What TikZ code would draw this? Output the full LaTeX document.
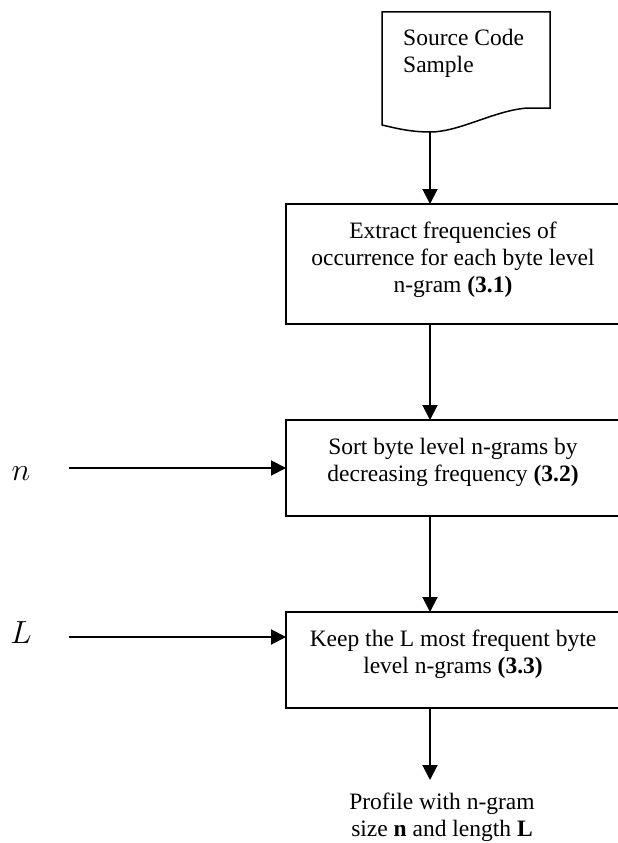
\RequirePackage{fix-cm}
\documentclass[tikz,border=0pt]{standalone}
\usepackage{fontspec}
\setmainfont{Liberation Serif}
\usetikzlibrary{arrows.meta}
\begin{document}
\begin{tikzpicture}[x=1pt,y=-1pt,
  box/.style={draw, line width=1.5pt, minimum width=334pt, inner sep=0pt, outer sep=0pt, anchor=north west},
  txt/.style={font=\fontsize{23.5}{27}\selectfont, align=center, inner sep=0pt, anchor=north},
  arr/.style={line width=2pt, -{Triangle[width=15pt,length=15pt]}},
  var/.style={font=\fontsize{32}{32}\selectfont, inner sep=0pt},
  docline/.style={draw, line width=1.5pt, line join=miter}]
\useasboundingbox (0,0) rectangle (618,843);
\fill[white] (0,0) rectangle (618,843);
% document shape
\draw[docline] (382,125) -- (382,12) -- (550,12) -- (550,108) -- (528,108)
  .. controls (495,110) and (460,132) .. (430,132)
  .. controls (410,132) and (395,128) .. (382,125) -- cycle;
\coordinate (docbot) at (430,132);
\node[txt, align=left, anchor=north west] (doctxt) at (403,28.5) {Source Code\\Sample};
% boxes
\node[box, minimum height=120pt] (b1) at (286,204) {};
\node[box, minimum height=96pt] (b2) at (286,420) {};
\node[box, minimum height=96pt] (b3) at (286,612) {};
\node[txt] (t1) at (453,221.5) {Extract frequencies of\\occurrence for each byte level\\n-gram \textbf{(3.1)}};
\node[txt] (t2) at (453,437.5) {Sort byte level n-grams by\\decreasing frequency \textbf{(3.2)}};
\node[txt] (t3) at (453,629.5) {Keep the L most frequent byte\\level n-grams \textbf{(3.3)}};
\node[txt] (out) at (442,793) {Profile with n-gram\\size \textbf{n} and length \textbf{L}};
\coordinate (pend) at (430,780);
% vertical arrows
\draw[arr] (docbot) -- (docbot |- b1.north);
\draw[arr] (docbot |- b1.south) -- (docbot |- b2.north);
\draw[arr] (docbot |- b2.south) -- (docbot |- b3.north);
\draw[arr] (docbot |- b3.south) -- (pend);
% inputs
\node[var] (nl) at (21,474) {$n$};
\node[var] (Ll) at (21,633) {$L$};
\coordinate (nstart) at (69,468);
\coordinate (Lstart) at (69,637);
\draw[arr] (nstart) -- (nstart -| b2.west);
\draw[arr] (Lstart) -- (Lstart -| b3.west);
\end{tikzpicture}
\end{document}
